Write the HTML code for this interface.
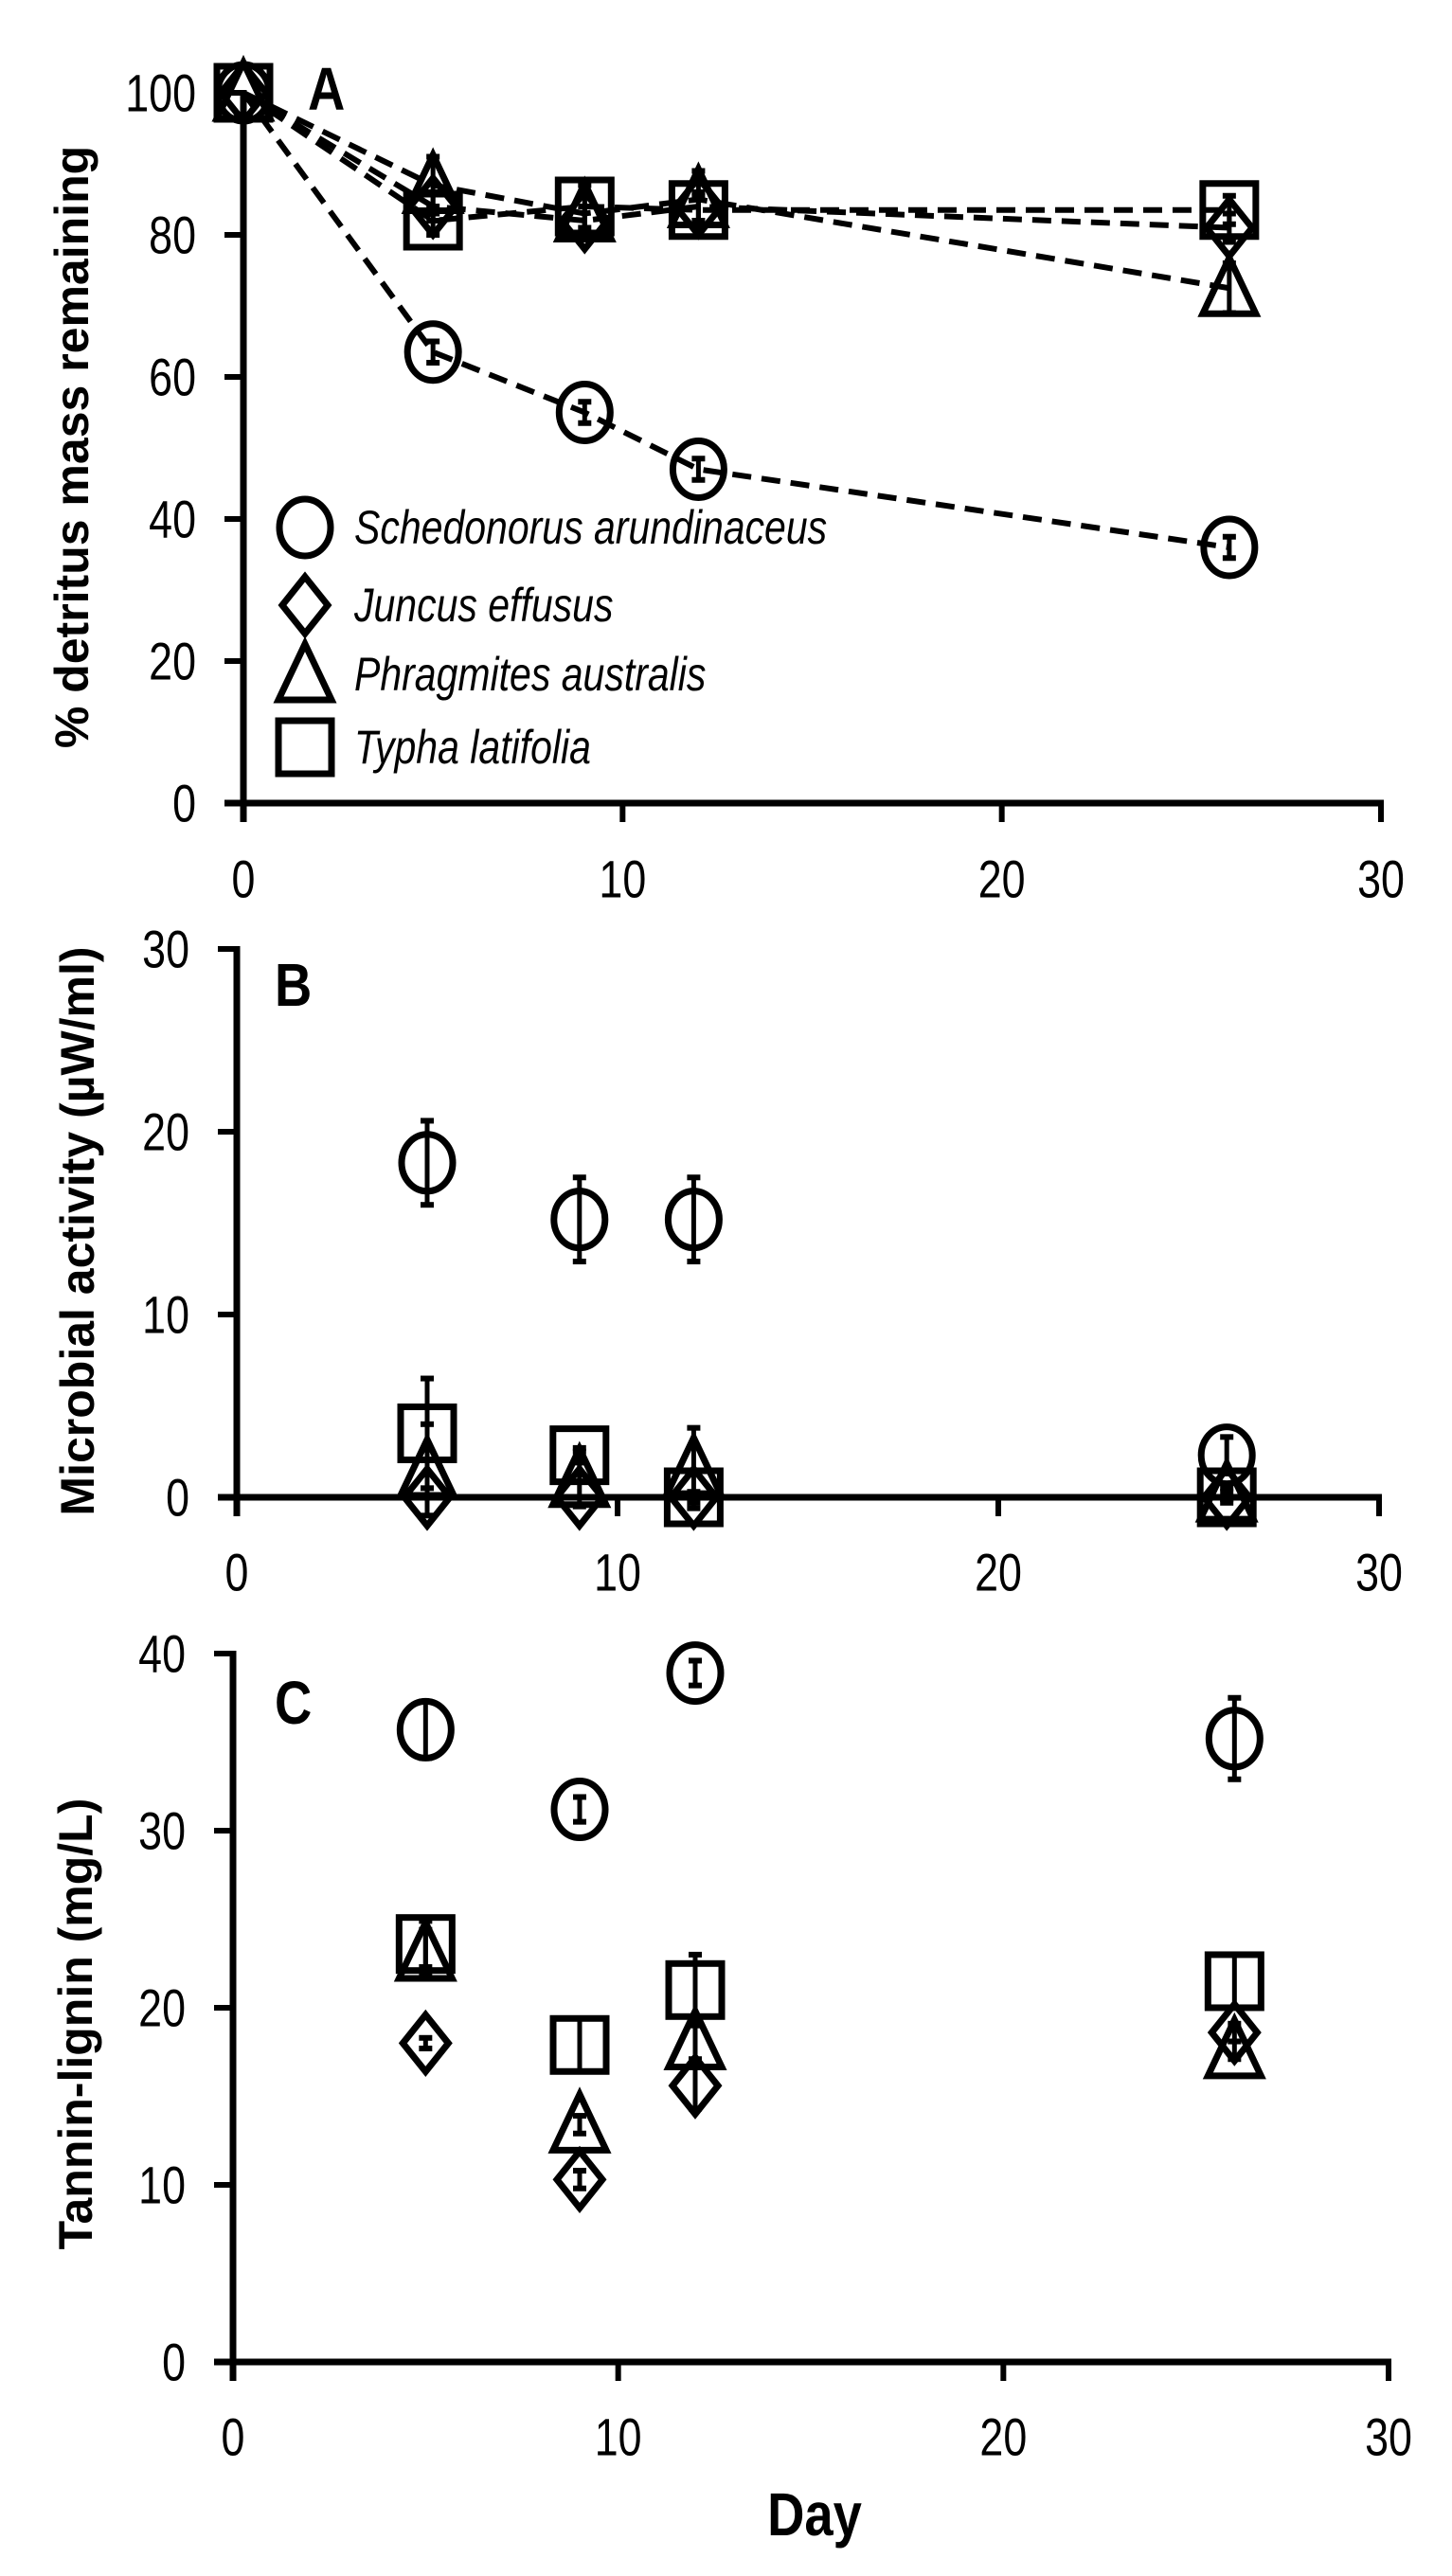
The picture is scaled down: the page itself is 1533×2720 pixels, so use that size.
<!DOCTYPE html>
<html><head><meta charset="utf-8"><style>
html,body{margin:0;padding:0;background:#fff;}
svg{display:block;}
text{font-family:"Liberation Sans",sans-serif;fill:#000;}
</style></head><body>
<svg id="fig" width="1533" height="2720" viewBox="0 0 1533 2720" xmlns="http://www.w3.org/2000/svg"></svg>
<script>
const days = [0, 5, 9, 12, 26];
const speciesNames = ["Schedonorus arundinaceus","Juncus effusus","Phragmites australis","Typha latifolia"];
const shapes = ["circle","diamond","triangle","square"];
// Panel A: % detritus mass remaining
const massCircle = [100, 63.5, 55, 47, 36];
const massDiamond = [100, 84, 82, 84, 81];
const massTriangle = [100, 87, 83, 85, 72.5];
const massSquare = [100, 82, 84, 83.5, 83.5];
const massErrCircle = [0, 1.5, 1.5, 1.5, 1.5];
const massErrDiamond = [0, 2, 2, 2, 2];
const massErrTriangle = [0, 4, 3, 4, 3.5];
const massErrSquare = [0, 2, 3, 2, 2];
// Panel B: microbial activity (days 5,9,12,26)
const bDays = [5, 9, 12, 26];
const actCircle = [18.3, 15.2, 15.2, 2.3];
const actDiamond = [0, 0, 0, 0];
const actTriangle = [1.5, 1.0, 1.6, 0.2];
const actSquare = [3.5, 2.3, 0, 0];
const actErrCircle = [2.3, 2.3, 2.3, 1.0];
const actErrTriangle = [2.5, 1.5, 2.2, 0.3];
const actErrSquare = [3.0, 0.4, 0.3, 0.3];
// Panel C: tannin-lignin
const tanCircle = [35.7, 31.2, 38.9, 35.2];
const tanDiamond = [18.0, 10.3, 15.6, 18.6];
const tanTriangle = [23.1, 13.4, 18.1, 17.6];
const tanSquare = [23.6, 17.9, 21.0, 21.5];
const tanErrCircle = [1.6, 0.7, 0.7, 2.3];
const tanErrDiamond = [0.3, 0.5, 1.3, 0.5];
const tanErrTriangle = [1.3, 0.5, 1.0, 0.5];
const tanErrSquare = [1.3, 1.5, 2.0, 1.5];
const ticksA = [0,20,40,60,80,100];
const ticksB = [0,10,20,30];
const ticksC = [0,10,20,30,40];
const ticksX = [0,10,20,30];

const NS="http://www.w3.org/2000/svg";
const svg=document.getElementById('fig');
function mk(tag,attrs,parent){const e=document.createElementNS(NS,tag);for(const k in attrs)e.setAttribute(k,attrs[k]);(parent||svg).appendChild(e);return e;}
function txt(str,x,y,size,anchor,opts,parent){
  opts=opts||{};
  const g=mk('g',{transform:`translate(${x},${y}) ${opts.rot?'rotate(-90)':''} scale(${opts.sx||0.8},1)`},parent);
  const t=mk('text',{x:0,y:0,'font-size':size,'text-anchor':anchor,'font-weight':opts.bold?'bold':'normal','font-style':opts.italic?'italic':'normal','dominant-baseline':'central'},g);
  t.textContent=str;return t;
}
function marker(shape,cx,cy,parent){
  const st={fill:'none',stroke:'#000','stroke-width':7};
  let e;
  if(shape==='circle') e=mk('ellipse',Object.assign({cx:cx,cy:cy,rx:27,ry:30},st),parent);
  else if(shape==='square') e=mk('rect',Object.assign({x:cx-28,y:cy-28,width:56,height:56},st),parent);
  else if(shape==='triangle') e=mk('polygon',Object.assign({points:`${cx},${cy-32} ${cx-28},${cy+27} ${cx+28},${cy+27}`},st),parent);
  else e=mk('polygon',Object.assign({points:`${cx},${cy-30} ${cx+24},${cy} ${cx},${cy+30} ${cx-24},${cy}`},st),parent);
  return e;
}
function errbar(cx,yTop,yBot,parent){
  mk('line',{x1:cx,x2:cx,y1:yTop,y2:yBot,stroke:'#000','stroke-width':5},parent);
  mk('line',{x1:cx-7,x2:cx+7,y1:yTop,y2:yTop,stroke:'#000','stroke-width':6},parent);
  mk('line',{x1:cx-7,x2:cx+7,y1:yBot,y2:yBot,stroke:'#000','stroke-width':6},parent);
}
function panel(cfg){
  const g=mk('g',{});
  
  
  const X=v=>cfg.x0+(cfg.x1-cfg.x0)*v/30;
  const Y=v=>cfg.y0-(cfg.y0-cfg.yTop)*v/cfg.ymax;
  const ax=mk('g',{},g);
  
  
  mk('line',{x1:cfg.x0,x2:cfg.x0,y1:Y(cfg.ymax)-3,y2:cfg.y0+20,stroke:'#000','stroke-width':7},ax);
  mk('line',{x1:cfg.x0-20,x2:X(30)+3,y1:cfg.y0,y2:cfg.y0,stroke:'#000','stroke-width':7},ax);
  cfg.yticks.forEach(v=>{
    mk('line',{x1:cfg.x0-20,x2:cfg.x0,y1:Y(v),y2:Y(v),stroke:'#000','stroke-width':6},ax);
    const t=txt(String(v),cfg.x0-50,Y(v),56,'end',{},ax);
    
    
  });
  ticksX.forEach(v=>{
    mk('line',{x1:X(v),x2:X(v),y1:cfg.y0,y2:cfg.y0+20,stroke:'#000','stroke-width':6},ax);
    const t=txt(String(v),X(v),cfg.xlabY,56,'middle',{},ax);
    
    
  });
  const yt=txt(cfg.ytitle,cfg.ytx,cfg.yty,50,'middle',{bold:true,rot:true,sx:1.0},g);
  
  
  const pl=txt(cfg.letter,cfg.lx,cfg.ly,64,'start',{bold:true,sx:0.85},g);
  
  
  cfg.series.forEach((s,i)=>{
    const sg=mk('g',{},g);
    
    
    if(cfg.lines){
      const pts=s.vals.map((v,k)=>`${X(cfg.days[k])},${Y(v)}`).join(' ');
      const pll=mk('polyline',{points:pts,fill:'none',stroke:'#000','stroke-width':6,'stroke-dasharray':'20,11'},sg);
      
      
    }
    s.vals.forEach((v,k)=>{
      const e=s.err?s.err[k]:0;
      if(e>0) errbar(X(cfg.days[k]),Y(v+e),Y(v-e),sg);
      const m=marker(shapes[s.shape],X(cfg.days[k]),Y(v),sg);
      
      
    });
  });
  return g;
}
panel({name:'panel-a',x0:257,x1:1458,y0:848,yTop:98,ymax:100,yticks:ticksA,xlabY:928,
  ytitle:'% detritus mass remaining',ytx:76,yty:472,letter:'A',lx:325,ly:94,lines:true,days:days,
  series:[{shape:1,vals:massDiamond,err:massErrDiamond},{shape:2,vals:massTriangle,err:massErrTriangle},
          {shape:3,vals:massSquare,err:massErrSquare},{shape:0,vals:massCircle,err:massErrCircle}]});
panel({name:'panel-b',x0:250,x1:1456,y0:1581,yTop:1002,ymax:30,yticks:ticksB,xlabY:1660,
  ytitle:'Microbial activity (\u00b5W/ml)',ytx:82,yty:1300,letter:'B',lx:290,ly:1040,lines:false,days:bDays,
  series:[{shape:1,vals:actDiamond,err:null},{shape:2,vals:actTriangle,err:actErrTriangle},
          {shape:3,vals:actSquare,err:actErrSquare},{shape:0,vals:actCircle,err:actErrCircle}]});
panel({name:'panel-c',x0:246,x1:1466,y0:2494,yTop:1746,ymax:40,yticks:ticksC,xlabY:2573,
  ytitle:'Tannin-lignin (mg/L)',ytx:80,yty:2137,letter:'C',lx:290,ly:1798,lines:false,days:bDays,
  series:[{shape:1,vals:tanDiamond,err:tanErrDiamond},{shape:2,vals:tanTriangle,err:tanErrTriangle},
          {shape:3,vals:tanSquare,err:tanErrSquare},{shape:0,vals:tanCircle,err:tanErrCircle}]});
const xt=txt('Day',860,2655,64,'middle',{bold:true,sx:0.85});


// legend
const lg=mk('g',{});


const legY=[557,639,712,789];
speciesNames.forEach((n,i)=>{
  const eg=mk('g',{},lg);
  
  
  marker(shapes[i],322,legY[i],eg);
  txt(n,374,legY[i],50,'start',{italic:true,sx:0.82},eg);
});
</script>
</body></html>
